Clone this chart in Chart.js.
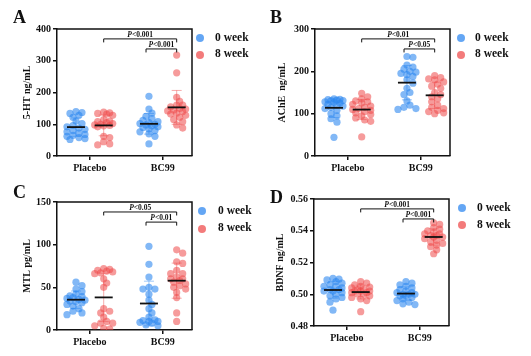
<!DOCTYPE html>
<html><head><meta charset="utf-8">
<script src="https://cdn.jsdelivr.net/npm/chart.js@4/dist/chart.umd.min.js"></script>
<style>
html,body{margin:0;padding:0;background:#fff;width:531px;height:356px;overflow:hidden;}
canvas{position:absolute;}
.lab{position:absolute;font-family:'Liberation Serif',serif;font-weight:bold;color:#111;line-height:1;white-space:nowrap;}
.letter{font-size:18px;}
.leg{font-size:11.5px;}
.dot{position:absolute;width:8px;height:8px;border-radius:50%;}
</style></head><body>
<script>
// ---------- data ----------
const groups = ['Placebo', 'BC99'];
const seriesNames = ['0 week', '8 week'];
const panelLetters = ['A', 'B', 'C', 'D'];
const yTitles = ['5-HT ng/mL', 'AChE  ng/mL', 'MTL pg/mL', 'BDNF ng/mL'];
const yTicksA = [0, 100, 200, 300, 400];
const yTicksB = [0, 100, 200, 300];
const yTicksC = [0, 50, 100, 150];
const yTicksD = [0.48, 0.50, 0.52, 0.54, 0.56];
const yTickLabelsD = ['0.48', '0.50', '0.52', '0.54', '0.56'];
const pLongLabels = ['P<0.001', 'P<0.01', 'P<0.05', 'P<0.001'];
const pShortLabels = ['P<0.001', 'P<0.05', 'P<0.01', 'P<0.001'];

// Panel A: 5-HT (ng/mL)
const A_placebo_0wk = [140,137,134,128,122,110,102,96,92,88,84,80,76,72,68,65,62,58,55,52];
const A_placebo_8wk = [138,136,134,132,128,115,108,110,105,102,100,98,96,95,92,62,58,45,38,35];
const A_bc99_0wk = [188,148,135,125,118,112,108,105,102,100,98,95,92,90,85,80,76,70,62,38];
const A_bc99_8wk = [318,262,185,172,160,160,155,150,148,145,142,140,135,132,128,122,115,108,98,88];
// Panel B: AChE (ng/mL)
const B_placebo_0wk = [135,134,133,132,131,130,128,127,125,122,120,118,115,112,108,100,95,88,80,44];
const B_placebo_8wk = [148,140,135,130,128,125,122,118,115,112,110,108,105,102,98,95,90,85,82,45];
const B_bc99_0wk = [235,233,215,210,205,200,198,195,192,188,180,172,160,150,145,130,120,115,112,110];
const B_bc99_8wk = [190,185,182,180,175,170,165,160,150,145,140,135,128,120,115,112,108,105,102,100];
// Panel C: MTL (pg/mL)
const C_placebo_0wk = [56,52,48,45,42,40,39,38,37,36,35,34,33,32,30,28,25,22,20,18];
const C_placebo_8wk = [72,71,70,69,68,67,66,60,55,50,25,22,20,15,10,8,8,5,2,1];
const C_bc99_0wk = [98,77,62,48,50,48,42,35,30,25,20,15,12,11,10,10,9,8,6,5];
const C_bc99_8wk = [94,90,78,80,70,66,60,66,62,60,58,56,54,52,50,48,44,38,20,10];
// Panel D: BDNF (ng/mL)
const D_placebo_0wk = [0.510,0.5095,0.509,0.508,0.507,0.506,0.505,0.505,0.504,0.503,0.503,0.502,0.502,0.501,0.500,0.499,0.498,0.497,0.495,0.490];
const D_placebo_8wk = [0.508,0.507,0.506,0.505,0.5045,0.504,0.503,0.503,0.502,0.502,0.502,0.501,0.501,0.500,0.500,0.499,0.498,0.497,0.496,0.489];
const D_bc99_0wk = [0.508,0.507,0.506,0.505,0.504,0.503,0.502,0.501,0.501,0.500,0.500,0.500,0.499,0.499,0.498,0.497,0.496,0.495,0.494,0.4935];
const D_bc99_8wk = [0.545,0.544,0.542,0.541,0.540,0.539,0.538,0.538,0.537,0.537,0.536,0.536,0.535,0.534,0.533,0.532,0.531,0.530,0.528,0.5255];

// ---------- styling / layout ----------
const FONT = "'Liberation Serif', 'Times New Roman', serif";
const BLUE = 'rgba(40,132,240,0.58)';
const RED = 'rgba(238,72,72,0.55)';
const BLUE_BAR = 'rgba(40,132,240,0.45)';
const RED_BAR = 'rgba(238,72,72,0.45)';
const X_MIN = 0.55, X_MAX = 2.4, OFFSET = 0.19;

const panels = [
  {canvas:{l:0,t:0,w:200,h:178}, area:{l:57,r:192,t:29,b:156}, pl:21, ticks:yTicksA, labels:null,
   data:[A_placebo_0wk,A_placebo_8wk,A_bc99_0wk,A_bc99_8wk],
   letter:{l:13,t:8}, leg:{dx:200,tx:215,y0:38,y1:54.5}},
  {canvas:{l:265,t:0,w:190,h:178}, area:{l:50,r:185,t:29,b:156}, pl:11, ticks:yTicksB, labels:null,
   data:[B_placebo_0wk,B_placebo_8wk,B_bc99_0wk,B_bc99_8wk],
   letter:{l:270,t:8}, leg:{dx:461,tx:475,y0:38,y1:54.5}},
  {canvas:{l:0,t:178,w:200,h:178}, area:{l:57,r:192,t:24,b:152}, pl:21, ticks:yTicksC, labels:null,
   data:[C_placebo_0wk,C_placebo_8wk,C_bc99_0wk,C_bc99_8wk],
   letter:{l:13,t:183}, leg:{dx:202,tx:218,y0:211,y1:228.5}},
  {canvas:{l:265,t:178,w:190,h:178}, area:{l:49,r:184,t:21,b:148}, pl:9, ticks:yTicksD, labels:yTickLabelsD,
   data:[D_placebo_0wk,D_placebo_8wk,D_bc99_0wk,D_bc99_8wk],
   letter:{l:270,t:188}, leg:{dx:462,tx:477,y0:208,y1:225}}
];

// deterministic beeswarm offsets (layout only)
function swarm(values, yPx, xPx){
  const placed = [], offs = new Array(values.length);
  const order = values.map((v,i)=>i).sort((a,b)=>values[b]-values[a]);
  const d = 3.0, minD = 4.6, cands = [0,d,-d,2*d,-2*d,3*d,-3*d];
  for (const i of order){
    const py = values[i]*yPx;
    let best = 0, score = -1;
    for (const c of cands){
      let m = Infinity;
      for (const p of placed) m = Math.min(m, Math.hypot(c-p.x, py-p.y));
      if (m >= minD){ best = c; score = Infinity; break; }
      if (m > score){ score = m; best = c; }
    }
    placed.push({x:best, y:py});
    offs[i] = best/xPx;
  }
  return offs;
}
const mean = a => a.reduce((s,v)=>s+v,0)/a.length;
const sd = a => { const m = mean(a); return Math.sqrt(a.reduce((s,v)=>s+(v-m)*(v-m),0)/(a.length-1)); };

const overlay = {
  id:'overlay',
  beforeDatasetsDraw(chart, args, o){
    const {ctx, scales:{x,y}} = chart;
    ctx.save();
    o.sets.forEach(s=>{
      const m = mean(s.values), e = sd(s.values);
      const px = x.getPixelForValue(s.x);
      const y1 = y.getPixelForValue(m+e), y2 = y.getPixelForValue(Math.max(m-e, y.min));
      ctx.strokeStyle = s.bar; ctx.lineWidth = 1;
      ctx.beginPath();
      ctx.moveTo(px, y1); ctx.lineTo(px, y2);
      ctx.moveTo(px-5, y1); ctx.lineTo(px+5, y1);
      if (m-e > y.min){ ctx.moveTo(px-5, y2); ctx.lineTo(px+5, y2); }
      ctx.stroke();
    });
    ctx.restore();
  },
  afterDatasetsDraw(chart, args, o){
    const {ctx, chartArea:ca, scales:{x,y}} = chart;
    ctx.save();
    o.sets.forEach(s=>{
      const px = x.getPixelForValue(s.x), py = y.getPixelForValue(mean(s.values));
      ctx.strokeStyle = '#111'; ctx.lineWidth = 1.8;
      ctx.beginPath(); ctx.moveTo(px-9, py); ctx.lineTo(px+9, py); ctx.stroke();
    });
    ctx.strokeStyle = '#111'; ctx.lineWidth = 1.5;
    ctx.beginPath(); ctx.moveTo(ca.left, ca.top); ctx.lineTo(ca.right, ca.top); ctx.lineTo(ca.right, ca.bottom); ctx.stroke();
    const range = y.max - y.min;
    const br = (x1, x2, frac, label) => {
      const a = x.getPixelForValue(x1), b = x.getPixelForValue(x2);
      const py = y.getPixelForValue(y.min + range*frac);
      ctx.strokeStyle = '#111'; ctx.lineWidth = 1;
      ctx.beginPath(); ctx.moveTo(a, py+3.5); ctx.lineTo(a, py); ctx.lineTo(b, py); ctx.lineTo(b, py+3.5); ctx.stroke();
      const fI = `italic bold 7.5px ${FONT}`, fN = `bold 7.5px ${FONT}`;
      const rest = label.slice(1);
      ctx.font = fI; const w1 = ctx.measureText('P').width;
      ctx.font = fN; const w2 = ctx.measureText(rest).width;
      let sx = (a+b)/2 - (w1+w2)/2;
      ctx.fillStyle = '#111'; ctx.textBaseline = 'alphabetic'; ctx.textAlign = 'left';
      ctx.font = fI; ctx.fillText('P', sx, py-2);
      ctx.font = fN; ctx.fillText(rest, sx+w1, py-2);
    };
    br(1+OFFSET, 2+OFFSET, 0.922, o.pLong);
    br(2-OFFSET-0.04, 2+OFFSET, 0.843, o.pShort);
    ctx.restore();
  }
};

panels.forEach((P, k)=>{
  const c = document.createElement('canvas');
  c.style.left = P.canvas.l+'px'; c.style.top = P.canvas.t+'px';
  c.style.width = P.canvas.w+'px'; c.style.height = P.canvas.h+'px';
  c.width = P.canvas.w; c.height = P.canvas.h;
  document.body.appendChild(c);

  const ymin = P.ticks[0], ymax = P.ticks[P.ticks.length-1];
  const plotH = P.area.b - P.area.t;
  const xPx = (P.area.r - P.area.l)/(X_MAX - X_MIN);
  const yPx = plotH/(ymax - ymin);
  const centers = [1-OFFSET, 1+OFFSET, 2-OFFSET, 2+OFFSET];
  const colors = [BLUE, RED, BLUE, RED];
  const bars = [BLUE_BAR, RED_BAR, BLUE_BAR, RED_BAR];
  const datasets = P.data.map((vals, j)=>{
    const offs = swarm(vals, yPx, xPx);
    return {
      label: seriesNames[j%2],
      data: vals.map((v,i)=>({x: centers[j]+offs[i], y: v})),
      backgroundColor: colors[j], borderWidth: 0, pointRadius: 3.6, pointHoverRadius: 3.6
    };
  });
  const sets = P.data.map((vals,j)=>({x:centers[j], values:vals, bar:bars[j]}));

  new Chart(c, {
    type: 'scatter',
    data: {datasets},
    plugins: [overlay],
    options: {
      responsive:false, animation:false, devicePixelRatio:1,
      layout:{padding:{left:P.pl, top:P.area.t, right:P.canvas.w-P.area.r, bottom:0}},
      plugins:{legend:{display:false}, tooltip:{enabled:false},
        overlay:{sets, pLong:pLongLabels[k], pShort:pShortLabels[k]}},
      scales:{
        x:{type:'linear', min:X_MIN, max:X_MAX,
          afterBuildTicks: s=>{ s.ticks = groups.map((g,i)=>({value:i+1})); },
          afterFit: s=>{ s.height = P.canvas.h - P.area.b; },
          ticks:{autoSkip:false, maxRotation:0, color:'#111', padding:2,
            font:{family:FONT, weight:'bold', size:10},
            callback:(v,i)=>groups[i]},
          grid:{display:true, drawOnChartArea:false, drawTicks:true, tickLength:4, color:'#111', lineWidth:1.5},
          border:{display:true, color:'#111', width:1.5}},
        y:{min:ymin, max:ymax,
          afterBuildTicks: s=>{ s.ticks = P.ticks.map(v=>({value:v})); },
          afterFit: s=>{ s.width = P.area.l - P.pl; },
          ticks:{color:'#111', padding:2, font:{family:FONT, weight:'bold', size:10},
            callback:(v,i)=> P.labels ? P.labels[i] : String(P.ticks[i])},
          grid:{display:true, drawOnChartArea:false, drawTicks:true, tickLength:4, color:'#111', lineWidth:1.5},
          border:{display:true, color:'#111', width:1.5},
          title:{display:true, text:yTitles[k], color:'#111', padding:0,
            font:{family:FONT, weight:'bold', size:10}}}
      }
    }
  });

  const L = document.createElement('div');
  L.className = 'lab letter'; L.textContent = panelLetters[k];
  L.style.left = P.letter.l+'px'; L.style.top = P.letter.t+'px';
  document.body.appendChild(L);
  [P.leg.y0, P.leg.y1].forEach((yy, j)=>{
    const d = document.createElement('div');
    d.className = 'dot'; d.style.background = j ? 'rgba(238,72,72,0.72)' : 'rgba(40,132,240,0.72)';
    d.style.left = (P.leg.dx-4)+'px'; d.style.top = (yy-4)+'px';
    document.body.appendChild(d);
    const t = document.createElement('div');
    t.className = 'lab leg'; t.textContent = seriesNames[j];
    t.style.left = P.leg.tx+'px'; t.style.top = (yy-6.5)+'px';
    document.body.appendChild(t);
  });
});
</script>
</body></html>
